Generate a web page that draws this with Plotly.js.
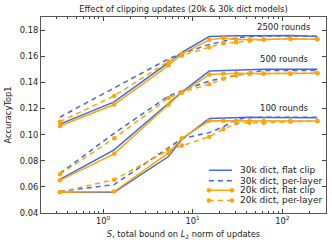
<!DOCTYPE html>
<html><head><meta charset="utf-8">
<script src="https://cdn.plot.ly/plotly-3.0.1.min.js"></script>
<style>html,body{margin:0;padding:0;background:#fff}#c{width:332px;height:246px}</style>
</head><body><div id="c"></div>
<script>
const S = [0.33, 1.33, 5.37, 7.57, 15.3, 22, 30.6, 43, 61.8, 123, 246];

const r100_30k_flat  = [0.0558, 0.0558, 0.0832, 0.0964, 0.1124, 0.1128, 0.1130, 0.1132, 0.1130, 0.1130, 0.1128];
const r100_30k_layer = [0.0565, 0.0617, 0.0900, 0.0970, 0.1015, 0.1060, 0.1116, 0.1130, 0.1132, 0.1132, 0.1132];
const r100_20k_flat  = [0.0558, 0.0564, 0.0860, 0.0972, 0.1106, 0.1106, 0.1104, 0.1105, 0.1104, 0.1105, 0.1104];
const r100_20k_layer = [0.0560, 0.0655, 0.0880, 0.0916, 0.0984, 0.1043, 0.1086, 0.1090, 0.1090, 0.1098, 0.1103];

const r500_30k_flat  = [0.0658, 0.0883, 0.1240, 0.1326, 0.1486, 0.1490, 0.1495, 0.1498, 0.1500, 0.1500, 0.1500];
const r500_30k_layer = [0.0703, 0.1010, 0.1295, 0.1335, 0.1410, 0.1435, 0.1455, 0.1475, 0.1490, 0.1490, 0.1490];
const r500_20k_flat  = [0.0650, 0.0853, 0.1230, 0.1320, 0.1460, 0.1468, 0.1470, 0.1468, 0.1468, 0.1468, 0.1470];
const r500_20k_layer = [0.0697, 0.0972, 0.1280, 0.1325, 0.1385, 0.1428, 0.1453, 0.1466, 0.1466, 0.1466, 0.1471];

const r2500_30k_flat  = [0.1080, 0.1250, 0.1550, 0.1630, 0.1750, 0.1755, 0.1757, 0.1757, 0.1758, 0.1758, 0.1750];
const r2500_30k_layer = [0.1134, 0.1360, 0.1580, 0.1620, 0.1690, 0.1714, 0.1740, 0.1750, 0.1755, 0.1755, 0.1752];
const r2500_20k_flat  = [0.1066, 0.1230, 0.1530, 0.1618, 0.1725, 0.1740, 0.1727, 0.1725, 0.1727, 0.1733, 0.1730];
const r2500_20k_layer = [0.1098, 0.1296, 0.1560, 0.1605, 0.1669, 0.1700, 0.1706, 0.1719, 0.1727, 0.1733, 0.1730];

const legendNames = ['30k dict, flat clip', '30k dict, per-layer', '20k dict, flat clip', '20k dict, per-layer'];
const roundLabels = ['2500 rounds', '500 rounds', '100 rounds'];
const yTicks = [0.04, 0.06, 0.08, 0.10, 0.12, 0.14, 0.16, 0.18];
const xTicks = [1, 10, 100];
const xTickText = ['10<sup>0</sup>', '10<sup>1</sup>', '10<sup>2</sup>'];

const BLUE = '#4169e1', ORANGE = '#ffa500';
const DASH = '5px,4px';
const styles = [
  {color: BLUE, dash: 'solid', marker: false},
  {color: BLUE, dash: DASH, marker: false},
  {color: ORANGE, dash: 'solid', marker: true},
  {color: ORANGE, dash: DASH, marker: true}
];
const groups = [
  [r2500_30k_flat, r2500_30k_layer, r2500_20k_flat, r2500_20k_layer],
  [r500_30k_flat, r500_30k_layer, r500_20k_flat, r500_20k_layer],
  [r100_30k_flat, r100_30k_layer, r100_20k_flat, r100_20k_layer]
];
const traces = [];
for (let s = 0; s < 4; s++) {
  groups.forEach((g, gi) => {
    const st = styles[s];
    traces.push({
      x: S, y: g[s], type: 'scatter',
      mode: st.marker ? 'lines+markers' : 'lines',
      name: legendNames[s], showlegend: false,
      line: {color: st.color, width: 1.5, dash: st.dash},
      marker: {color: st.color, size: 4.5}
    });
  });
}

const F = 'DejaVu Sans, sans-serif';
const TXT = '#222';
const annotations = roundLabels.map((t, i) => ({
  text: t, xref: 'paper', yref: 'paper', x: 0.853, xanchor: 'center', y: [0.949, 0.786, 0.537][i], yanchor: 'middle',
  showarrow: false, font: {family: F, size: 8.5, color: TXT}
}));

// manual legend (compact, matplotlib-like)
const legY = [0.218, 0.165, 0.116, 0.064];
const lx0 = 0.589, lx1 = 0.670, ltx = 0.690;
const shapes = [];
legendNames.forEach((n, i) => {
  const st = styles[i];
  shapes.push({type: 'line', xref: 'paper', yref: 'paper', x0: lx0, x1: lx1, y0: legY[i], y1: legY[i],
    line: {color: st.color, width: 1.5, dash: st.dash}});
  if (st.marker) {
    [lx0, lx1].forEach(px => shapes.push({type: 'circle', xref: 'paper', yref: 'paper',
      xsizemode: 'pixel', ysizemode: 'pixel', xanchor: px, yanchor: legY[i],
      x0: -2.2, x1: 2.2, y0: -2.2, y1: 2.2, fillcolor: st.color, line: {width: 0}}));
  }
  annotations.push({text: n, xref: 'paper', yref: 'paper', x: ltx, xanchor: 'left', y: legY[i], yanchor: 'middle',
    showarrow: false, font: {family: F, size: 9, color: TXT}});
});

const layout = {
  width: 332, height: 246,
  margin: {l: 41, r: 6, t: 17, b: 33},
  paper_bgcolor: '#fff', plot_bgcolor: '#fff',
  font: {family: F, size: 8, color: TXT},
  title: {text: 'Effect of clipping updates (20k & 30k dict models)', font: {family: F, size: 8.3, color: TXT},
    xref: 'paper', x: 0.5, xanchor: 'center', y: 0.965, yanchor: 'middle'},
  xaxis: {
    type: 'log', range: [Math.log10(0.203), Math.log10(307)],
    tickvals: xTicks, ticktext: xTickText,
    ticks: 'inside', ticklen: 4, tickcolor: '#444', mirror: 'ticks',
    showline: true, linecolor: '#555', linewidth: 1, showgrid: false, zeroline: false,
    minor: {ticks: 'inside', ticklen: 2, tickcolor: '#444', dtick: 'D1', showgrid: false},
    tickfont: {family: F, size: 8.3, color: TXT},
    title: {text: '<i>S</i>, total bound on <i>L</i><sub>2</sub> norm of updates', font: {family: F, size: 8.3, color: TXT}, standoff: 6}
  },
  yaxis: {
    range: [0.04, 0.19], tickvals: yTicks, tickformat: '.2f',
    ticks: 'inside', ticklen: 4, tickcolor: '#444', mirror: 'ticks',
    showline: true, linecolor: '#555', linewidth: 1, showgrid: false, zeroline: false,
    tickfont: {family: F, size: 8.3, color: TXT},
    title: {text: 'AccuracyTop1', font: {family: F, size: 8.3, color: TXT}, standoff: 6}
  },
  showlegend: false,
  shapes: shapes,
  annotations: annotations
};
Plotly.newPlot('c', traces, layout, {staticPlot: true, displayModeBar: false});
</script></body></html>
